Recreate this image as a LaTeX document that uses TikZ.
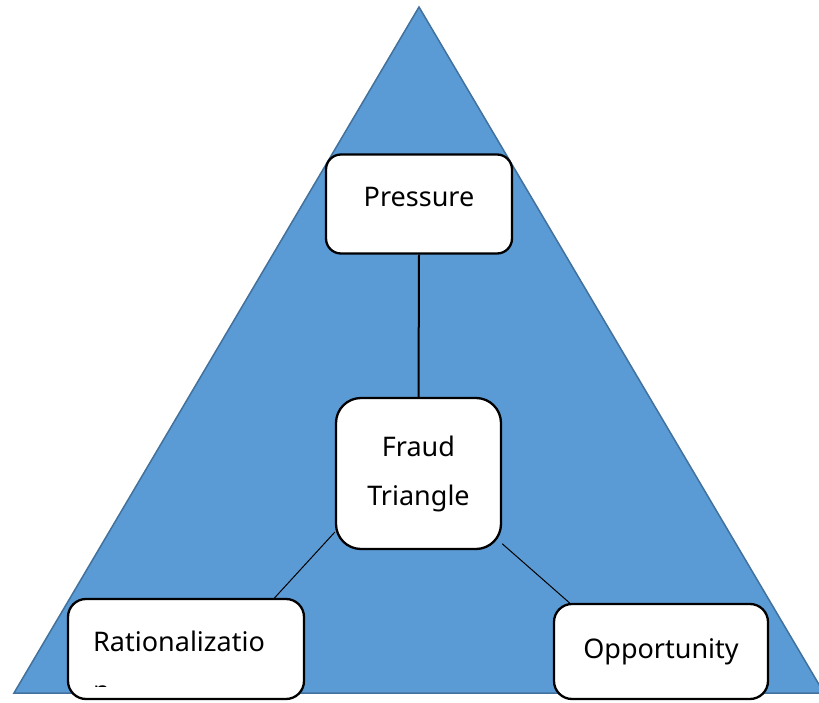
\documentclass[tikz,border=0pt]{standalone}
\usepackage{fontspec}
\setmainfont{Noto Sans}
\definecolor{triblue}{HTML}{5B9BD5}
\definecolor{triedge}{HTML}{41719C}
\tikzset{
  box/.style={draw=black, line width=2.3pt, fill=white, rounded corners=15pt,
    font=\fontsize{27}{49}\selectfont},
  boxtext/.style={inner sep=0pt, font=\fontsize{27}{49}\selectfont, align=left}
}
\begin{document}
\begin{tikzpicture}[x=1pt,y=1pt]
\clip (0,0) rectangle (819,702);
\fill[white] (0,0) rectangle (819,702);
% the big triangle
\draw[fill=triblue, draw=triedge, line width=1.5pt] (419,695) -- (824,9) -- (14,9) -- cycle;

% the four boxes
\node[box, minimum width=186pt, minimum height=99pt, text depth=14pt] (pressure) at (419,498) {Pressure};
\node[box, rounded corners=25pt, minimum width=165pt, minimum height=151pt, align=center] (fraud) at (418.5,228.5) {Fraud\\Triangle};
\node[box, rounded corners=18pt, minimum width=236pt, minimum height=100pt] (rational) at (186,53) {};
\node[box, rounded corners=18pt, minimum width=214pt, minimum height=95pt] (opportunity) at (661,50.5) {Opportunity};

% text of the lower left box, cut off by the box as in the original
\begin{scope}
\clip (rational.north west) rectangle ([yshift=14pt]rational.south east);
\node[boxtext, anchor=base west] (rationaltext) at (93,2) {Rationalizatio\\n};
\end{scope}

% connectors
\draw[line width=2pt] (pressure.south) -- (fraud.north);
\draw[line width=1pt] (fraud.215) -- (rational.30);
\draw[line width=1pt] (fraud.320) -- (opportunity.152);
\end{tikzpicture}
\end{document}
